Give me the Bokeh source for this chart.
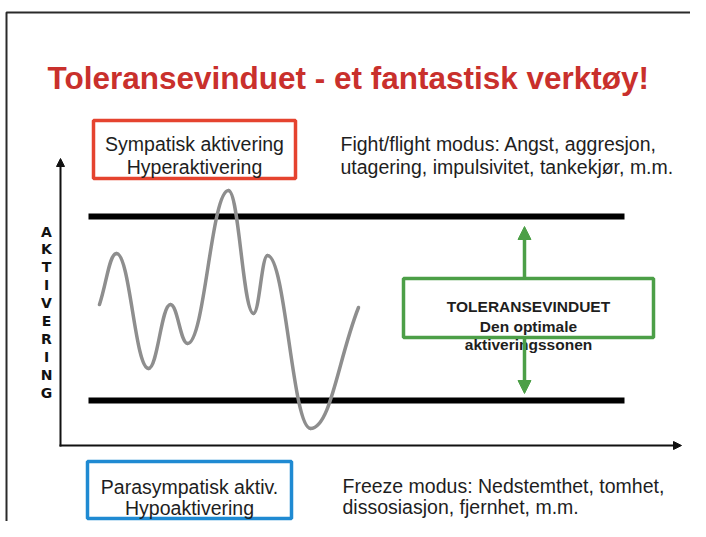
from bokeh.plotting import figure
from bokeh.models import Range1d, Arrow, NormalHead
from bokeh.core.properties import value
from bokeh.embed import file_html
from bokeh.resources import INLINE

# ---------------- content / data ----------------
title_text = "Toleransevinduet - et fantastisk verktøy!"
hyper_lines = ["Sympatisk aktivering", "Hyperaktivering"]
hypo_lines = ["Parasympatisk aktiv.", "Hypoaktivering"]
fight_lines = ["Fight/flight modus: Angst, aggresjon,",
               "utagering, impulsivitet, tankekjør, m.m."]
freeze_lines = ["Freeze modus: Nedstemthet, tomhet,",
                "dissosiasjon, fjernhet, m.m."]
window_lines = ["TOLERANSEVINDUET", "Den optimale", "aktiveringssonen"]
axis_letters = list("AKTIVERING")

# activation curve: turning points (time, activation)
wave_t = [99, 116, 148, 170, 187, 228, 253, 267, 310, 358]
wave_a = [304, 253, 368, 304, 343, 190, 313, 255, 428, 307]
# limits of the window of tolerance
window_limits = [216, 400]

# ---------------- layout / styles ----------------
FONT = value("Liberation Sans")
TXT = "#1e1e1e"
RED = "#c9302c"
BOX_RED = "#e5432f"
BOX_BLUE = "#1f8ad2"
GREEN = "#4c9f47"
WAVE = "#8e8e8e"

W, H = 690, 521
p = figure(width=W, height=H, x_range=Range1d(0, W), y_range=Range1d(H, 0),
           output_backend="svg", toolbar_location=None, min_border=0,
           x_axis_location=None, y_axis_location=None)
p.grid.visible = False
p.outline_line_color = None
p.background_fill_color = "white"
p.border_fill_color = "white"

# slide frame
p.line([6, 6, 700], [540, 12, 12], line_width=2, line_color="#2a2a2a")

# title
p.text(x=[47], y=[77], text=[title_text], text_font=FONT, text_font_style="bold",
       text_font_size=value("31.5px"), text_color=RED, text_align="left",
       text_baseline="alphabetic")

# window limits
p.segment(x0=[88] * len(window_limits), x1=[624] * len(window_limits),
          y0=window_limits, y1=window_limits, line_width=6, line_color="black",
          line_cap="butt")

# axes
p.add_layout(Arrow(x_start=60, y_start=446, x_end=60, y_end=158, line_width=2,
                   line_color="#111111",
                   end=NormalHead(size=8, fill_color="#111111", line_color="#111111")))
p.add_layout(Arrow(x_start=59, y_start=445, x_end=681, y_end=445, line_width=2,
                   line_color="#111111",
                   end=NormalHead(size=8, fill_color="#111111", line_color="#111111")))

# vertical axis label
p.text(x=[46] * len(axis_letters), y=[231 + 17.9 * i for i in range(len(axis_letters))],
       text=axis_letters, text_font=value("DejaVu Sans"), text_font_style="bold",
       text_font_size=value("14px"), text_color="#111111", text_align="center",
       text_baseline="middle")

# activation wave drawn as bezier segments between turning points
k = 0.42
x0, y0, x1, y1, cx0, cy0, cx1, cy1 = [], [], [], [], [], [], [], []
n = len(wave_t)
for i in range(n - 1):
    xa, ya, xb, yb = wave_t[i], wave_a[i], wave_t[i + 1], wave_a[i + 1]
    dx = xb - xa
    x0.append(xa); y0.append(ya); x1.append(xb); y1.append(yb)
    cx0.append(xa + k * dx)
    cy0.append(ya + (k * (yb - ya) if i == 0 else 0))
    cx1.append(xb - k * dx)
    cy1.append(yb - (k * (yb - ya) if i + 1 == n - 1 else 0))
p.bezier(x0=x0, y0=y0, x1=x1, y1=y1, cx0=cx0, cy0=cy0, cx1=cx1, cy1=cy1,
         line_color=WAVE, line_width=3.5, line_cap="round")

# green arrows + tolerance window box
p.add_layout(Arrow(x_start=524, y_start=278, x_end=524, y_end=226, line_width=3.5,
                   line_color=GREEN,
                   end=NormalHead(size=13, fill_color=GREEN, line_color=GREEN)))
p.add_layout(Arrow(x_start=524, y_start=337, x_end=524, y_end=393, line_width=3.5,
                   line_color=GREEN,
                   end=NormalHead(size=13, fill_color=GREEN, line_color=GREEN)))
p.quad(left=[403], right=[653], top=[278], bottom=[337], fill_color="white",
       line_color=GREEN, line_width=3.5)
p.text(x=[528] * 3, y=[306, 326, 344], text=window_lines, text_font=FONT,
       text_font_style="bold", text_font_size=value("15.5px"), text_color=TXT,
       text_align="center", text_baseline="alphabetic")

# red / blue boxes
p.quad(left=[93], right=[295], top=[120], bottom=[178], fill_color=None,
       line_color=BOX_RED, line_width=3.5)
p.text(x=[194] * 2, y=[143, 166], text=hyper_lines, text_font=FONT,
       text_font_size=value("19.5px"), text_color=TXT, text_align="center",
       text_baseline="alphabetic")
p.quad(left=[87], right=[291], top=[461], bottom=[518], fill_color=None,
       line_color=BOX_BLUE, line_width=3.5)
p.text(x=[189] * 2, y=[486, 507], text=hypo_lines, text_font=FONT,
       text_font_size=value("19.5px"), text_color=TXT, text_align="center",
       text_baseline="alphabetic")

# descriptions
p.text(x=[340] * 2, y=[143, 166], text=fight_lines, text_font=FONT,
       text_font_size=value("19.5px"), text_color=TXT, text_align="left",
       text_baseline="alphabetic")
p.text(x=[342] * 2, y=[485, 506], text=freeze_lines, text_font=FONT,
       text_font_size=value("19.5px"), text_color=TXT, text_align="left",
       text_baseline="alphabetic")

open("out.html", "w").write(file_html(p, INLINE))
